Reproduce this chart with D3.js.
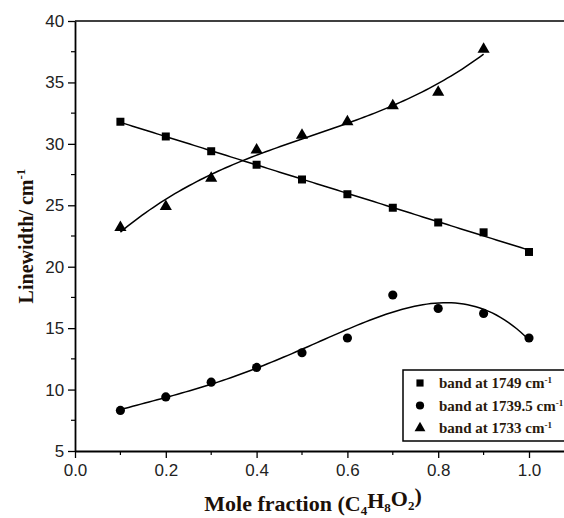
<!DOCTYPE html>
<html>
<head>
<meta charset="utf-8">
<style>
  body { margin: 0; background: #fff; }
  svg { display: block; }
</style>
</head>
<body>
<svg width="564" height="518"></svg>
<script src="https://d3js.org/d3.v7.min.js"></script>
<script>

var svg = d3.select("svg"),
    width = +svg.attr("width"),
    height = +svg.attr("height");

// data
var molFraction = [0.1, 0.2, 0.3, 0.4, 0.5, 0.6, 0.7, 0.8, 0.9, 1.0];
var band1749   = [31.8, 30.6, 29.4, 28.3, 27.1, 25.9, 24.8, 23.6, 22.8, 21.2];
var band1739_5 = [8.3, 9.4, 10.6, 11.8, 13.0, 14.2, 17.7, 16.6, 16.2, 14.2];
var band1733   = [23.2, 24.9, 27.2, 29.5, 30.7, 31.8, 33.1, 34.2, 37.7];
var xTicks = [0.0, 0.2, 0.4, 0.6, 0.8, 1.0];
var yTicks = [5, 10, 15, 20, 25, 30, 35, 40];

var series = [
  {label: "band at 1749 cm", values: band1749, symbol: d3.symbolSquare, size: 64, order: 1},
  {label: "band at 1739.5 cm", values: band1739_5, symbol: d3.symbolCircle, size: 66, order: 4},
  {label: "band at 1733 cm", values: band1733, symbol: d3.symbolTriangle, size: 64, order: 3}
];

var x = d3.scaleLinear().domain([0, 1.08]).range([75, 75 + 454 * 1.08]),
    y = d3.scaleLinear().domain([5, 40]).range([451, 21]);

// least squares polynomial fit (the smooth curves in the figure)
function polyfit(xs, ys, n) {
  var m = n + 1, A = [], i, j, k;
  for (i = 0; i < m; i++) {
    A.push([]);
    for (j = 0; j < m; j++) A[i].push(d3.sum(xs, function(v) { return Math.pow(v, i + j); }));
    A[i].push(d3.sum(xs, function(v, t) { return Math.pow(v, i) * ys[t]; }));
  }
  for (i = 0; i < m; i++) {
    for (k = i + 1; k < m; k++) {
      var f = A[k][i] / A[i][i];
      for (j = i; j <= m; j++) A[k][j] -= f * A[i][j];
    }
  }
  var c = new Array(m);
  for (i = m - 1; i >= 0; i--) {
    var s = A[i][m];
    for (j = i + 1; j < m; j++) s -= A[i][j] * c[j];
    c[i] = s / A[i][i];
  }
  return function(v) { return d3.sum(c, function(ci, p) { return ci * Math.pow(v, p); }); };
}

// axes frame
svg.append("line")
    .attr("x1", x(0)).attr("x2", width)
    .attr("y1", y(40)).attr("y2", y(40))
    .attr("stroke", "#000").attr("stroke-width", 1.6);

var xAxis = svg.append("g")
    .attr("transform", "translate(0," + y(5) + ")")
    .call(d3.axisBottom(x).tickValues(xTicks).tickFormat(d3.format(".1f")).tickSize(7).tickSizeOuter(0));
xAxis.append("g").selectAll("line")
    .data(d3.range(0.1, 1.0, 0.2))
  .enter().append("line")
    .attr("x1", x).attr("x2", x)
    .attr("y1", 0).attr("y2", 4)
    .attr("stroke", "#000").attr("stroke-width", 1.2);

var yAxis = svg.append("g")
    .attr("transform", "translate(" + x(0) + ",0)")
    .call(d3.axisLeft(y).tickValues(yTicks).tickSize(7).tickSizeOuter(0));
yAxis.append("g").selectAll("line")
    .data(d3.range(7.5, 40, 5))
  .enter().append("line")
    .attr("y1", y).attr("y2", y)
    .attr("x1", 0).attr("x2", -4)
    .attr("stroke", "#000").attr("stroke-width", 1.2);

[xAxis, yAxis].forEach(function(a) {
  a.select(".domain").attr("stroke-width", 1.8);
  a.selectAll(".tick line").attr("stroke-width", 1.3);
  a.selectAll("text")
      .attr("font-family", "'Liberation Sans', Arial, sans-serif")
      .attr("font-size", 17)
      .attr("fill", "#222");
});
xAxis.selectAll(".tick text").attr("dy", "0.9em");
yAxis.selectAll(".tick text").attr("dx", "-0.05em");

// fitted curves
var line = d3.line().x(function(d) { return x(d[0]); }).y(function(d) { return y(d[1]); });
series.forEach(function(s) {
  var xs = molFraction.slice(0, s.values.length);
  var fit = polyfit(xs, s.values, s.order);
  var pts = d3.range(0, 101).map(function(i) {
    var v = xs[0] + (xs[xs.length - 1] - xs[0]) * i / 100;
    return [v, fit(v)];
  });
  svg.append("path")
      .attr("d", line(pts))
      .attr("fill", "none")
      .attr("stroke", "#000")
      .attr("stroke-width", 1.5);

  svg.append("g").selectAll("path")
      .data(s.values)
    .enter().append("path")
      .attr("transform", function(d, i) { return "translate(" + x(molFraction[i]) + "," + y(d) + ")"; })
      .attr("d", d3.symbol().type(s.symbol).size(s.size))
      .attr("fill", "#000");
});

// legend
var legend = svg.append("g").attr("transform", "translate(403,370)");
legend.append("rect")
    .attr("width", 170).attr("height", 71)
    .attr("fill", "#fff").attr("stroke", "#000").attr("stroke-width", 1.5);
var item = legend.selectAll(".item")
    .data(series)
  .enter().append("g")
    .attr("transform", function(d, i) { return "translate(17," + (13 + i * 22.5) + ")"; });
item.append("path")
    .attr("d", function(d) { return d3.symbol().type(d.symbol).size(d.size * 0.8)(); })
    .attr("fill", "#000");
var lt = item.append("text")
    .attr("x", 19).attr("dy", "0.35em")
    .attr("font-family", "'Liberation Serif', 'Times New Roman', serif")
    .attr("font-weight", "bold").attr("font-size", 15)
    .attr("fill", "#2a1a0c")
    .text(function(d) { return d.label; });
lt.append("tspan").attr("dy", "-0.55em").attr("font-size", 9).text("-1");

// axis titles
svg.append("text")
    .attr("transform", "translate(33,236) rotate(-90)")
    .attr("text-anchor", "middle")
    .attr("font-family", "'Liberation Serif', 'Times New Roman', serif")
    .attr("font-weight", "bold").attr("font-size", 20)
    .attr("fill", "#1c1008")
    .text("Linewidth/ cm")
  .append("tspan").attr("dy", "-0.6em").attr("font-size", 13).text("-1");

var xt = svg.append("text")
    .attr("x", 313).attr("y", 511)
    .attr("text-anchor", "middle")
    .attr("font-family", "'Liberation Serif', 'Times New Roman', serif")
    .attr("font-weight", "bold").attr("font-size", 22)
    .attr("fill", "#1c1008");
xt.append("tspan").text("Mole fraction (C");
xt.append("tspan").attr("dy", "0.3em").attr("font-size", 13).text("4");
xt.append("tspan").attr("dy", "-0.3em").text("H");
xt.append("tspan").attr("dy", "0.3em").attr("font-size", 13).text("8");
xt.append("tspan").attr("dy", "-0.3em").text("O");
xt.append("tspan").attr("dy", "0.3em").attr("font-size", 13).text("2");
xt.append("tspan").attr("dy", "-0.3em").text(")");

</script>
</body>
</html>
